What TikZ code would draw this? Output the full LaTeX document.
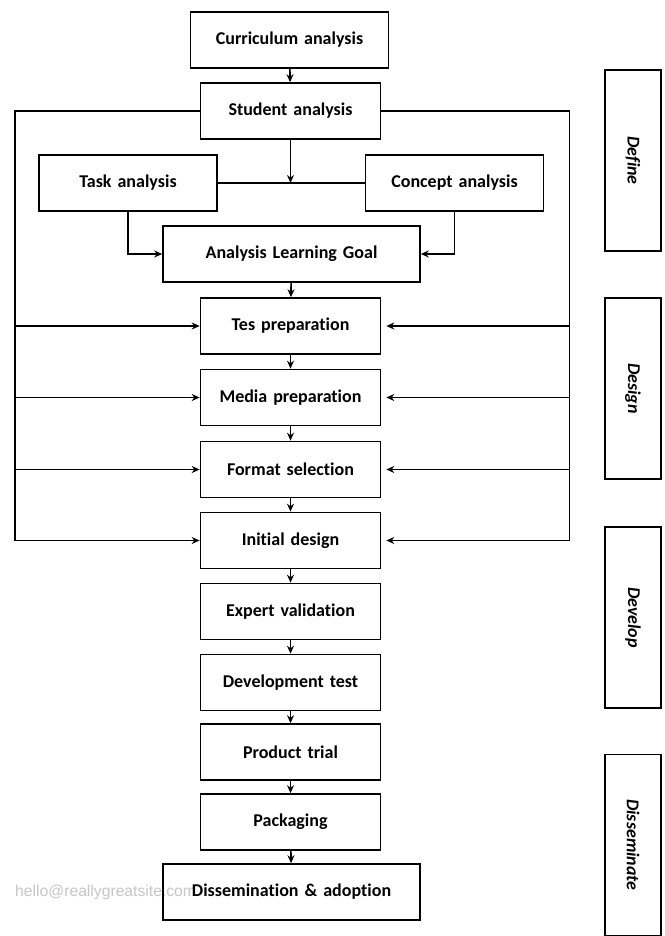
\documentclass[tikz,border=0pt]{standalone}
\usepackage{fontspec}
\setmainfont{Carlito}[Ligatures=NoCommon]
\newfontfamily\markfont{Liberation Sans}
\usepackage{tikz}
\usetikzlibrary{arrows.meta, positioning, calc}

\begin{document}
\begin{tikzpicture}[
  x=1pt, y=-1pt,
  box/.style={draw, line width=1.6pt, text width=#1, align=center, minimum width=#1, minimum height=56pt, inner sep=0pt, font=\fontsize{18}{21}\selectfont\bfseries},
  box/.default=180pt,
  phase/.style={draw, line width=1.6pt, minimum width=181pt, minimum height=56pt, rotate=-90, font=\fontsize{18}{21}\selectfont\bfseries\itshape},
  arr/.style={-{Stealth[length=8pt, width=7pt]}, line width=1.6pt},
  bus/.style={line width=1.6pt}
]
\useasboundingbox (0,0) rectangle (664,936);

% watermark
\node[text=gray!45, font=\markfont\fontsize{15.7}{18}\selectfont, anchor=west, inner sep=0pt] (mark) at (15,892) {hello@reallygreatsite.com};

% main column
\node[box=198pt] (curr) at (289.5,40) {Curriculum analysis};
\node[box] (stud) at (290.5,111) {Student analysis};
\node[box=178pt] (task) at (128,183) {Task analysis};
\node[box=178pt] (conc) at (454.5,183) {Concept analysis};
\node[box=257pt] (goal) at (291.5,254) {Analysis Learning Goal};
\node[box] (tes) at (290.5,326) {Tes preparation};
\node[box] (media) at (290.5,397.5) {Media preparation};
\node[box] (format) at (290.5,469.5) {Format selection};
\node[box] (init) at (290.5,540.5) {Initial design};
\node[box] (expert) at (290.5,611.5) {Expert validation};
\node[box] (devtest) at (290.5,682.5) {Development test};
\node[box] (trial) at (290.5,752) {Product trial};
\node[box] (pack) at (290.5,822) {Packaging};
\node[box=257pt] (dissem) at (291.5,892) {Dissemination \& adoption};

% phases
\node[phase] (define) at (633,160.5) {Define};
\node[phase] (design) at (633,388.5) {Design};
\node[phase] (develop) at (633,617.5) {Develop};
\node[phase] (dissphase) at (633,845) {Disseminate};

% bus lines
\coordinate (lt) at (15,111);
\coordinate (lb) at (15,540.5);
\coordinate (rt) at (569.5,111);
\coordinate (rb) at (569.5,540.5);
\coordinate (join) at (stud |- task);

\draw[arr] (curr) -- (stud);
\draw[bus] (task) -- (conc);
\draw[arr] (stud) -- (join);
\draw[arr] (task.south) |- (goal.west);
\draw[arr] (conc.south) |- (goal.east);
\draw[arr] (goal) -- (tes);

\draw[bus] (stud.west) -- (lt) -- (lb);
\draw[bus] (stud.east) -- (rt) -- (rb);
\foreach \n in {tes, media, format, init} {
  \draw[arr] (lt |- \n) -- (\n.west);
  \draw[arr, shorten >=5pt] (rt |- \n) -- (\n.east);
}

\draw[arr] (tes) -- (media);
\draw[arr] (media) -- (format);
\draw[arr] (format) -- (init);
\draw[arr] (init) -- (expert);
\draw[arr] (expert) -- (devtest);
\draw[arr] (devtest) -- (trial);
\draw[arr] (trial) -- (pack);
\draw[arr] (pack) -- (dissem);
\end{tikzpicture}
\end{document}
